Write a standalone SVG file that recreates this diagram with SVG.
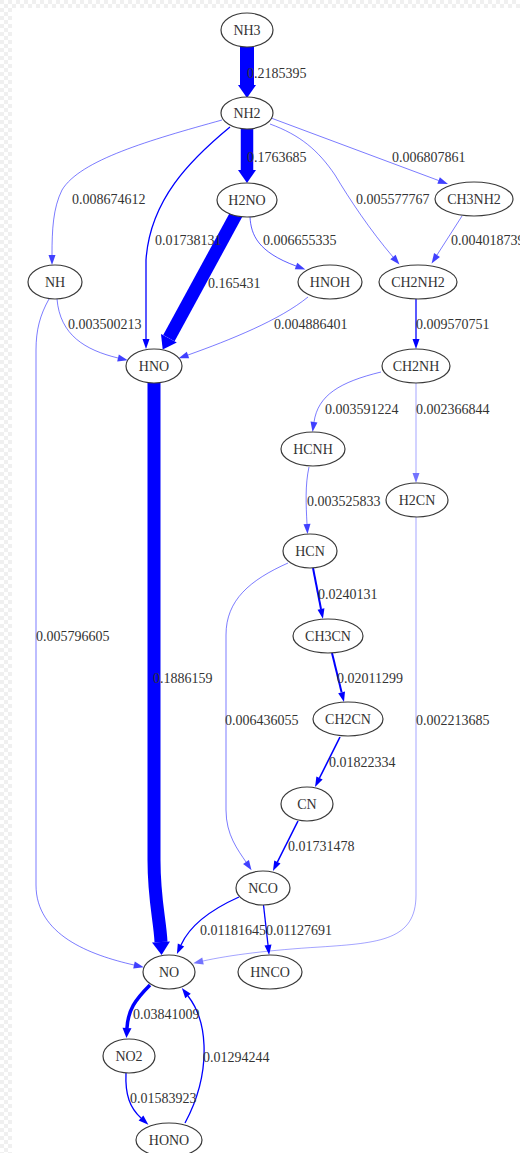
<svg xmlns="http://www.w3.org/2000/svg" width="520" height="1153" viewBox="0 0 520 1153">
<style>
.n ellipse{fill:#fff;stroke:#3a3a3a;stroke-width:1.2}
.n text{font-family:"Liberation Serif","Times New Roman",serif;font-size:14px;fill:#333;text-anchor:middle}
.lab text{font-family:"Liberation Serif","Times New Roman",serif;font-size:14px;fill:#333}
.e path{fill:none;stroke:#0000ff}
.e .t{stroke-width:0.8;stroke-opacity:0.65;marker-end:url(#al)}
.e .x{stroke-width:0.8;stroke-opacity:0.45;marker-end:url(#ax)}
.e .m{stroke-width:1.3;marker-end:url(#a)}
.e .w{stroke-width:2;marker-end:url(#a)}
.e .k{stroke-width:13;marker-end:url(#ab)}
</style>
<defs>
<pattern id="chk" width="8" height="8" patternUnits="userSpaceOnUse"><rect width="8" height="8" fill="#fff"/><rect width="4" height="4" fill="#f0f0f0"/><rect x="4" y="4" width="4" height="4" fill="#f0f0f0"/></pattern>
<marker id="a" markerUnits="userSpaceOnUse" markerWidth="11" markerHeight="8" refX="0" refY="3.5" orient="auto" overflow="visible"><path d="M0,0L10,3.5L0,7z" fill="#0000ff"/></marker>
<marker id="al" markerUnits="userSpaceOnUse" markerWidth="11" markerHeight="8" refX="0" refY="3.5" orient="auto" overflow="visible"><path d="M0,0L10,3.5L0,7z" fill="#0000ff" fill-opacity="0.75"/></marker>
<marker id="ax" markerUnits="userSpaceOnUse" markerWidth="11" markerHeight="8" refX="0" refY="3.5" orient="auto" overflow="visible"><path d="M0,0L10,3.5L0,7z" fill="#0000ff" fill-opacity="0.55"/></marker>
<marker id="am" markerUnits="userSpaceOnUse" markerWidth="11" markerHeight="10" refX="0" refY="4.5" orient="auto" overflow="visible"><path d="M0,0L10,4.5L0,9z" fill="#0000ff"/></marker>
<marker id="ab" markerUnits="userSpaceOnUse" markerWidth="14" markerHeight="18" refX="0" refY="9" orient="auto" overflow="visible"><path d="M0,0L13,9L0,18z" fill="#0000ff"/></marker>
</defs>
<rect width="520" height="1153" fill="#fff"/>
<rect x="0" y="0" width="12" height="1153" fill="url(#chk)"/>
<rect x="0" y="0" width="520" height="8" fill="url(#chk)"/>

<g id="edges" class="e">
<path class="k" style="stroke-width:14" d="M247,47 L247,85"/>
<path class="k" style="stroke-width:12.5" d="M247,129 L247,170"/>
<path class="t" d="M222,120 C150,140 80,160 62,190 C53,208 52,230 52,255"/>
<path class="m" d="M230,127 C190,160 150,200 146,260 L146,339"/>
<path class="t" d="M270,124 C300,135 318,150 335,175 C350,200 370,230 393,257"/>
<path class="t" d="M271,118 L438.6,180.5"/>
<path class="k" d="M237,213 L168.9,338.2"/>
<path class="t" style="stroke-opacity:0.8" d="M250,217 C251,235 258,252 296,266"/>
<path class="t" d="M462,216 L437,255"/>
<path class="t" d="M57,299 C60,335 85,350 118,358"/>
<path class="t" d="M49,299 C40,315 36,330 36,350 L36,885 C36,935 90,955 134,965"/>
<path class="t" d="M308,297 C280,320 230,340 188,355"/>
<path class="m" d="M416,299 L416,339"/>
<path class="t" d="M381,372 C340,382 318,395 314,422"/>
<path class="x" d="M416,383 L416,473"/>
<path class="k" d="M154,383 L154,860 C154,900 160,920 161,942"/>
<path class="t" d="M309,467 C305,485 306,505 307,524"/>
<path class="x" d="M416,517 L416,895 C416,940 380,943 320,947 C270,950 230,955 203,961"/>
<path class="w" d="M313,568 L321,609"/>
<path class="t" d="M288,563 C250,580 226,600 226,635 L226,810 C226,835 238,850 246,862"/>
<path class="w" d="M332,653 L341.6,692.3"/>
<path class="w" style="stroke-width:1.6" d="M340,737 L319.5,778"/>
<path class="w" style="stroke-width:1.6" d="M298,821 L277.4,862"/>
<path class="m" d="M239,897 C210,910 190,925 181,945"/>
<path class="m" d="M263.5,905 L268,945"/>
<path class="w" style="stroke-width:3.5;marker-end:url(#am)" d="M150,985 C135,1000 128,1010 127,1028"/>
<path class="m" d="M126,1073 C125,1095 130,1108 141,1118"/>
<path class="m" d="M185,1123 C200,1095 205,1070 204,1045 C203,1020 195,1005 188,996"/>
</g>

<g id="edge-labels" class="lab">
<text x="247" y="78">0.2185395</text>
<text x="247" y="162">0.1763685</text>
<text x="72" y="204">0.008674612</text>
<text x="155" y="245">0.01738131</text>
<text x="356" y="204">0.005577767</text>
<text x="392" y="162">0.006807861</text>
<text x="208" y="288">0.165431</text>
<text x="263" y="245">0.006655335</text>
<text x="451" y="245">0.004018739</text>
<text x="68" y="329">0.003500213</text>
<text x="36" y="641">0.005796605</text>
<text x="274" y="329">0.004886401</text>
<text x="416" y="329">0.009570751</text>
<text x="325" y="414">0.003591224</text>
<text x="416" y="414">0.002366844</text>
<text x="153" y="683">0.1886159</text>
<text x="307" y="506">0.003525833</text>
<text x="416" y="725">0.002213685</text>
<text x="318" y="599">0.0240131</text>
<text x="225" y="725">0.006436055</text>
<text x="337" y="683">0.02011299</text>
<text x="329" y="767">0.01822334</text>
<text x="288" y="851">0.01731478</text>
<text x="200" y="935">0.01181645</text>
<text x="266" y="935">0.01127691</text>
<text x="133" y="1019">0.03841009</text>
<text x="130" y="1103">0.01583923</text>
<text x="203" y="1062">0.01294244</text>
</g>

<g id="NH3" class="n"><ellipse cx="247" cy="30" rx="26" ry="17"/><text x="247" y="35">NH3</text></g>
<g id="NH2" class="n"><ellipse cx="247" cy="113" rx="26" ry="16"/><text x="247" y="118">NH2</text></g>
<g id="H2NO" class="n"><ellipse cx="247" cy="200" rx="30" ry="17"/><text x="247" y="205">H2NO</text></g>
<g id="CH3NH2" class="n"><ellipse cx="474" cy="199" rx="39" ry="17"/><text x="474" y="204">CH3NH2</text></g>
<g id="NH" class="n"><ellipse cx="55" cy="282" rx="27" ry="17"/><text x="55" y="287">NH</text></g>
<g id="HNOH" class="n"><ellipse cx="330" cy="282" rx="32" ry="17"/><text x="330" y="287">HNOH</text></g>
<g id="CH2NH2" class="n"><ellipse cx="418" cy="282" rx="39" ry="17"/><text x="418" y="287">CH2NH2</text></g>
<g id="HNO" class="n"><ellipse cx="154" cy="366" rx="28" ry="17"/><text x="154" y="371">HNO</text></g>
<g id="CH2NH" class="n"><ellipse cx="416" cy="366" rx="34" ry="17"/><text x="416" y="371">CH2NH</text></g>
<g id="HCNH" class="n"><ellipse cx="313" cy="449" rx="32" ry="17"/><text x="313" y="454">HCNH</text></g>
<g id="H2CN" class="n"><ellipse cx="417" cy="500" rx="31" ry="17"/><text x="417" y="505">H2CN</text></g>
<g id="HCN" class="n"><ellipse cx="310" cy="551" rx="27" ry="17"/><text x="310" y="556">HCN</text></g>
<g id="CH3CN" class="n"><ellipse cx="328" cy="636" rx="35" ry="17"/><text x="328" y="641">CH3CN</text></g>
<g id="CH2CN" class="n"><ellipse cx="348" cy="719" rx="35" ry="17"/><text x="348" y="724">CH2CN</text></g>
<g id="CN" class="n"><ellipse cx="307" cy="804" rx="26" ry="17"/><text x="307" y="809">CN</text></g>
<g id="NCO" class="n"><ellipse cx="263" cy="888" rx="27" ry="17"/><text x="263" y="893">NCO</text></g>
<g id="NO" class="n"><ellipse cx="169" cy="972" rx="26" ry="17"/><text x="169" y="977">NO</text></g>
<g id="HNCO" class="n"><ellipse cx="270" cy="972" rx="32" ry="17"/><text x="270" y="977">HNCO</text></g>
<g id="NO2" class="n"><ellipse cx="129" cy="1056" rx="26" ry="17"/><text x="129" y="1061">NO2</text></g>
<g id="HONO" class="n"><ellipse cx="169" cy="1140" rx="33" ry="17"/><text x="169" y="1145">HONO</text></g>
</svg>
